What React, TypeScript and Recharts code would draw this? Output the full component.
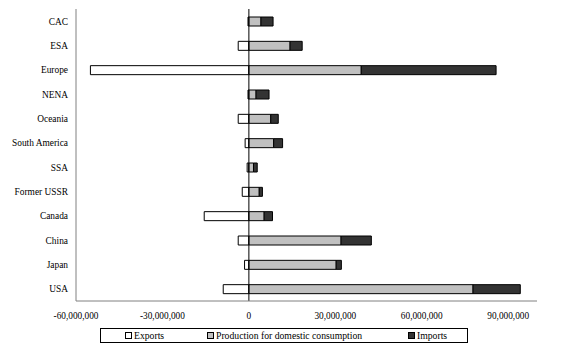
import React from "react";
import { BarChart, Bar, XAxis, YAxis, ReferenceLine } from "recharts";

const categories = ["CAC", "ESA", "Europe", "NENA", "Oceania", "South America", "SSA", "Former USSR", "Canada", "China", "Japan", "USA"];
const exportsVals = [-300000, -3700000, -55000000, -300000, -3700000, -1300000, -600000, -2300000, -15500000, -3700000, -1500000, -8900000];
const productionVals = [4200000, 14300000, 39000000, 2500000, 7600000, 8600000, 1600000, 3600000, 5300000, 32000000, 30300000, 77800000];
const importsVals = [4200000, 4200000, 46800000, 4500000, 2600000, 3100000, 1300000, 1100000, 2900000, 10500000, 1800000, 16400000];
const xTicks = [-60000000, -30000000, 0, 30000000, 60000000, 90000000];

const data = categories.map((name, i) => ({
  name,
  exports: exportsVals[i],
  production: productionVals[i],
  imports: importsVals[i],
}));

const FONT = "Liberation Serif";

const fmt = (v: number) => v.toLocaleString("en-US");

const YTick = (props: any) => {
  const { x, y, payload } = props;
  return (
    <text x={x} y={y} dy={3.5} textAnchor="end" fontFamily={FONT} fontSize={9.4} fill="#000">
      {payload.value}
    </text>
  );
};

const XTick = (props: any) => {
  const { x, y, payload } = props;
  return (
    <text x={x} y={y} dy={8} textAnchor="middle" fontFamily={FONT} fontSize={9.3} fill="#000">
      {fmt(payload.value)}
    </text>
  );
};

const legendItems = [
  { label: "Exports", color: "#FFFFFF", left: 24 },
  { label: "Production for domestic consumption", color: "#C0C0C0", left: 106 },
  { label: "Imports", color: "#333333", left: 307 },
];

export default function App() {
  return (
    <div style={{ position: "absolute", left: 0, top: 0, width: 571, height: 351, background: "#fff" }}>
      <style>{"body{margin:0}"}</style>
      <BarChart
        width={571}
        height={351}
        data={data}
        layout="vertical"
        stackOffset="sign"
        margin={{ top: 9, right: 34, bottom: 0, left: 0 }}
      >
        <XAxis
          type="number"
          domain={[-60000000, 100000000]}
          ticks={xTicks}
          allowDataOverflow
          tickLine={false}
          tickSize={0}
          tickMargin={10}
          height={50}
          axisLine={{ stroke: "#808080" }}
          tick={<XTick />}
        />
        <XAxis
          xAxisId="top"
          orientation="top"
          type="number"
          domain={[-60000000, 100000000]}
          tick={false}
          tickLine={false}
          height={0}
          axisLine={{ stroke: "#000" }}
        />
        <YAxis
          type="category"
          dataKey="name"
          width={76}
          tickLine={false}
          tickSize={0}
          tickMargin={8}
          axisLine={{ stroke: "#808080" }}
          tick={<YTick />}
          interval={0}
        />
        <YAxis
          yAxisId="right"
          orientation="right"
          type="category"
          dataKey="name"
          width={0}
          tick={false}
          tickLine={false}
          axisLine={{ stroke: "#808080" }}
        />
        <ReferenceLine x={0} stroke="#000" strokeWidth={1} />
        <Bar dataKey="exports" name="Exports" stackId="a" fill="#FFFFFF" stroke="#000" strokeWidth={1} barSize={9} isAnimationActive={false} />
        <Bar dataKey="production" name="Production for domestic consumption" stackId="a" fill="#C0C0C0" stroke="#000" strokeWidth={1} barSize={9} isAnimationActive={false} />
        <Bar dataKey="imports" name="Imports" stackId="a" fill="#333333" stroke="#000" strokeWidth={1} barSize={9} isAnimationActive={false} />
      </BarChart>
      <div
        style={{
          position: "absolute",
          left: 100,
          top: 328,
          width: 366,
          height: 13,
          border: "1px solid #000",
          fontFamily: FONT,
          fontSize: 9.7,
          color: "#000",
        }}
      >
        {legendItems.map((it) => (
          <div key={it.label} style={{ position: "absolute", left: it.left, top: 0, height: 13, display: "flex", alignItems: "center", whiteSpace: "nowrap" }}>
            <span style={{ display: "inline-block", width: 5, height: 5, border: "1px solid #000", background: it.color, marginRight: 2 }} />
            <span>{it.label}</span>
          </div>
        ))}
      </div>
    </div>
  );
}
